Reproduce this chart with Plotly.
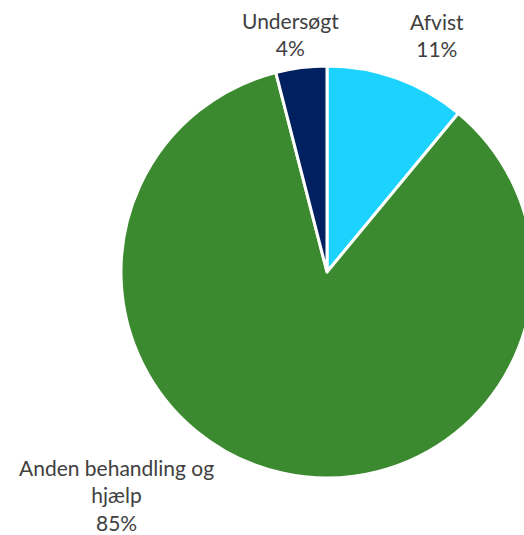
import plotly.graph_objects as go

categories = ["Afvist", "Anden behandling og<br>hjælp", "Undersøgt"]
values = [11, 85, 4]
colors = ["#1CD3FF", "#3C8A2F", "#002060"]

W, H = 540, 535
# label anchor positions in pixels from top-left (x, y)
label_px = [(437, 35), (116, 495), (290, 34)]

fig = go.Figure(go.Pie(
    labels=categories,
    values=values,
    sort=False,
    direction="clockwise",
    rotation=0,
    marker=dict(colors=colors, line=dict(color="white", width=3)),
    textinfo="none",
    hoverinfo="label+percent",
    domain=dict(x=[121 / W, 533 / W], y=[(H - 478) / H, (H - 66) / H]),
    showlegend=False,
))

total = sum(values)
annotations = []
for cat, v, (px, py) in zip(categories, values, label_px):
    annotations.append(dict(
        x=px / W, y=1 - py / H, xref="paper", yref="paper",
        text=f"{cat}<br>{round(100 * v / total)}%",
        showarrow=False, xanchor="center", yanchor="middle",
        font=dict(family="Lato, Open Sans, sans-serif", size=21, color="#404040"),
        align="center",
    ))

fig.update_layout(
    width=W, height=H,
    margin=dict(l=0, r=0, t=0, b=0),
    paper_bgcolor="white",
    plot_bgcolor="white",
    annotations=annotations,
)

fig.write_html(
    "out.html",
    config={"displayModeBar": False},
    post_script="document.body.style.margin='0';document.body.style.overflow='hidden';",
)
